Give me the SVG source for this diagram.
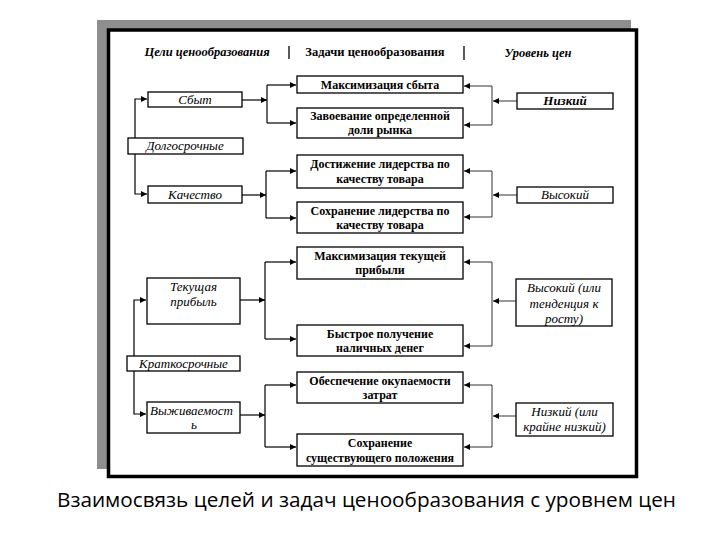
<svg xmlns="http://www.w3.org/2000/svg" width="720" height="540" viewBox="0 0 720 540">
  <style>
    .box { fill: #ffffff; stroke: #000000; stroke-width: 1.3; }
    .mid { font-family: "Liberation Serif", "DejaVu Serif", serif; font-weight: bold; font-size: 12px; fill: #000; text-anchor: middle; }
    .it { font-family: "Liberation Serif", "DejaVu Serif", serif; font-style: italic; font-size: 13px; fill: #000; text-anchor: middle; }
    .itb { font-family: "Liberation Serif", "DejaVu Serif", serif; font-style: italic; font-weight: bold; font-size: 13px; fill: #000; text-anchor: middle; }
    .hdr { font-family: "Liberation Serif", "DejaVu Serif", serif; font-size: 12.5px; fill: #000; text-anchor: middle; }
    .cap { font-family: "Open Sans", "Noto Sans", "Liberation Sans", sans-serif; font-size: 20px; fill: #000; }
    .conn { fill: none; stroke: #000; stroke-width: 1.2; }
    .connr { fill: none; stroke: #333; stroke-width: 1; }
    .sep { stroke: #000; stroke-width: 1.3; }
  </style>
  <defs>
    <marker id="arr" markerUnits="userSpaceOnUse" markerWidth="6" markerHeight="6" refX="6" refY="3" orient="auto">
      <path d="M0,0 L6,3 L0,6 z" fill="#000"/>
    </marker>
  </defs>

  <!-- background scan frame -->
  <rect x="97" y="20" width="534" height="449" fill="#8e8e8e"/>
  <rect x="108.5" y="30" width="528" height="446.5" fill="#ffffff" stroke="#000" stroke-width="3.5"/>

  <!-- headers -->
  <g id="headers">
    <text class="hdr" x="207" y="56" font-style="italic" font-weight="bold" font-size="12">Цели ценообразования</text>
    <line class="sep" x1="289" y1="46" x2="289" y2="59"/>
    <text class="hdr" x="375" y="56" font-weight="bold" font-size="12">Задачи ценообразования</text>
    <line class="sep" x1="464" y1="46" x2="464" y2="60"/>
    <text class="hdr" x="538" y="57" font-style="italic" font-weight="bold" font-size="13">Уровень цен</text>
  </g>

  <!-- connectors -->
  <g id="connectors">
    <!-- left goal groups -->
    <path class="conn" d="M135,138 V99 H147" marker-end="url(#arr)"/>
    <path class="conn" d="M135,154 V194 H147" marker-end="url(#arr)"/>
    <path class="conn" d="M134,356 V300 H146" marker-end="url(#arr)"/>
    <path class="conn" d="M134,371 V414 H146" marker-end="url(#arr)"/>
    <!-- goal to tasks forks -->
    <path class="conn" d="M242,100 H267" marker-end="url(#arr)"/>
    <path class="conn" d="M267,85 V123"/>
    <path class="conn" d="M267,85 H296" marker-end="url(#arr)"/>
    <path class="conn" d="M267,123 H296" marker-end="url(#arr)"/>

    <path class="conn" d="M242,195 H266" marker-end="url(#arr)"/>
    <path class="conn" d="M266,171 V218"/>
    <path class="conn" d="M266,171 H296" marker-end="url(#arr)"/>
    <path class="conn" d="M266,218 H296" marker-end="url(#arr)"/>

    <path class="conn" d="M240,300 H265" marker-end="url(#arr)"/>
    <path class="conn" d="M265,262 V339"/>
    <path class="conn" d="M265,262 H296" marker-end="url(#arr)"/>
    <path class="conn" d="M265,339 H296" marker-end="url(#arr)"/>

    <path class="conn" d="M240,415 H265" marker-end="url(#arr)"/>
    <path class="conn" d="M265,385 V447"/>
    <path class="conn" d="M265,385 H296" marker-end="url(#arr)"/>
    <path class="conn" d="M265,447 H296" marker-end="url(#arr)"/>

    <!-- price level to tasks -->
    <path class="connr" d="M517,101 H493" marker-end="url(#arr)"/>
    <path class="connr" d="M492,86 V125"/>
    <path class="connr" d="M492,86 H464" marker-end="url(#arr)"/>
    <path class="connr" d="M492,125 H464" marker-end="url(#arr)"/>

    <path class="connr" d="M517,195 H493" marker-end="url(#arr)"/>
    <path class="connr" d="M492,171 V217"/>
    <path class="connr" d="M492,171 H464" marker-end="url(#arr)"/>
    <path class="connr" d="M492,217 H464" marker-end="url(#arr)"/>

    <path class="connr" d="M516,301 H493" marker-end="url(#arr)"/>
    <path class="connr" d="M492,262 V346"/>
    <path class="connr" d="M492,262 H464" marker-end="url(#arr)"/>
    <path class="connr" d="M492,346 H464" marker-end="url(#arr)"/>

    <path class="connr" d="M516,416 H493" marker-end="url(#arr)"/>
    <path class="connr" d="M492,385 V447"/>
    <path class="connr" d="M492,385 H464" marker-end="url(#arr)"/>
    <path class="connr" d="M492,447 H464" marker-end="url(#arr)"/>
  </g>

  <!-- left column: goals -->
  <g id="g-sbyt">
    <rect class="box" x="148" y="92" width="94" height="15"/>
    <text class="it" x="195" y="104">Сбыт</text>
  </g>
  <g id="g-dolgo">
    <rect class="box" x="128" y="138" width="115" height="16"/>
    <text class="it" x="185" y="150">Долгосрочные</text>
  </g>
  <g id="g-kach">
    <rect class="box" x="148" y="186" width="94" height="17"/>
    <text class="it" x="195" y="199">Качество</text>
  </g>
  <g id="g-tek">
    <rect class="box" x="147" y="278" width="93" height="46"/>
    <text class="it" x="193.5" y="291">Текущая</text>
    <text class="it" x="193.5" y="306">прибыль</text>
  </g>
  <g id="g-kratko">
    <rect class="box" x="127" y="356" width="113" height="15"/>
    <text class="it" x="183.5" y="367.5">Краткосрочные</text>
  </g>
  <g id="g-vyzh">
    <rect class="box" x="147" y="402" width="93" height="31"/>
    <text class="it" x="191.5" y="415">Выживаемост</text>
    <text class="it" x="194" y="429">ь</text>
  </g>

  <!-- middle column: tasks -->
  <g id="t-maxsbyt">
    <rect class="box" x="297" y="76" width="166" height="17"/>
    <text class="mid" x="380" y="89">Максимизация сбыта</text>
  </g>
  <g id="t-zavoev">
    <rect class="box" x="297" y="108" width="166" height="30"/>
    <text class="mid" x="380" y="120">Завоевание определенной</text>
    <text class="mid" x="380" y="134">доли рынка</text>
  </g>
  <g id="t-dostizh">
    <rect class="box" x="297" y="155" width="166" height="33"/>
    <text class="mid" x="380" y="168">Достижение лидерства по</text>
    <text class="mid" x="380" y="183">качеству товара</text>
  </g>
  <g id="t-sohr-lid">
    <rect class="box" x="297" y="202" width="166" height="31"/>
    <text class="mid" x="380" y="215">Сохранение лидерства по</text>
    <text class="mid" x="380" y="229">качеству товара</text>
  </g>
  <g id="t-maxpr">
    <rect class="box" x="297" y="247" width="166" height="32"/>
    <text class="mid" x="380" y="260">Максимизация текущей</text>
    <text class="mid" x="380" y="274">прибыли</text>
  </g>
  <g id="t-bystr">
    <rect class="box" x="297" y="325" width="166" height="31"/>
    <text class="mid" x="380" y="338">Быстрое получение</text>
    <text class="mid" x="380" y="352">наличных денег</text>
  </g>
  <g id="t-okup">
    <rect class="box" x="297" y="372" width="166" height="31"/>
    <text class="mid" x="380" y="385">Обеспечение окупаемости</text>
    <text class="mid" x="380" y="399">затрат</text>
  </g>
  <g id="t-sohr-pol">
    <rect class="box" x="297" y="434" width="166" height="32"/>
    <text class="mid" x="380" y="447">Сохранение</text>
    <text class="mid" x="380" y="462">существующего положения</text>
  </g>

  <!-- right column: price levels -->
  <g id="p-nizk">
    <rect class="box" x="517" y="93" width="96" height="16"/>
    <text class="itb" x="565" y="105">Низкий</text>
  </g>
  <g id="p-vys">
    <rect class="box" x="517" y="187" width="96" height="16"/>
    <text class="it" x="565" y="199">Высокий</text>
  </g>
  <g id="p-vys2">
    <rect class="box" x="516" y="279" width="96" height="47"/>
    <text class="it" x="564" y="292">Высокий (или</text>
    <text class="it" x="564" y="308">тенденция к</text>
    <text class="it" x="564" y="323">росту)</text>
  </g>
  <g id="p-nizk2">
    <rect class="box" x="516" y="403" width="97" height="33"/>
    <text class="it" x="564.5" y="416">Низкий (или</text>
    <text class="it" x="564.5" y="431">крайне низкий)</text>
  </g>

  <!-- caption -->
  <text class="cap" x="57" y="507" textLength="619" lengthAdjust="spacingAndGlyphs">Взаимосвязь целей и задач ценообразования с уровнем цен</text>
</svg>
